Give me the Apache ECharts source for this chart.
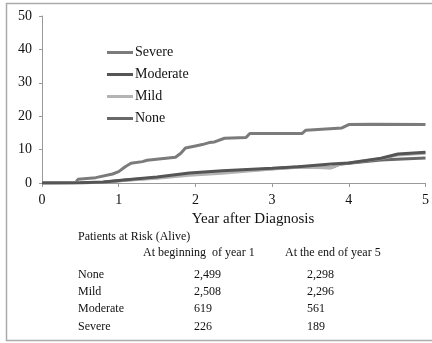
<!DOCTYPE html>
<html><head><meta charset="utf-8">
<script src="https://cdn.jsdelivr.net/npm/echarts@6/dist/echarts.min.js"></script>
<style>html,body{margin:0;padding:0;background:#fff}#c{width:432px;height:343px}</style>
</head><body><div id="c"></div>
<script>
const seriesNames = ['Severe', 'Moderate', 'Mild', 'None'];
const severe = [[0,0],[0.44,0.1],[0.47,1.1],[0.7,1.6],[0.92,2.7],[1.0,3.4],[1.08,4.8],[1.16,5.9],[1.31,6.4],[1.37,6.8],[1.74,7.7],[1.81,8.9],[1.87,10.5],[2.0,11.1],[2.09,11.5],[2.18,12.1],[2.25,12.3],[2.38,13.4],[2.66,13.6],[2.71,14.8],[3.39,14.8],[3.44,15.8],[3.91,16.5],[4.0,17.5],[4.3,17.6],[5.0,17.5]];
const moderate = [[0,0],[0.5,0.1],[0.8,0.3],[1.1,1.0],[1.5,1.8],[1.92,3.0],[2.35,3.7],[3.0,4.4],[3.34,4.9],[3.77,5.7],[4.0,6.0],[4.42,7.4],[4.64,8.7],[5.0,9.2]];
const mild = [[0,0],[0.55,0.1],[0.8,0.2],[1.1,0.8],[1.5,1.4],[1.92,2.3],[2.35,2.9],[3.0,4.2],[3.34,4.7],[3.77,4.6],[3.9,5.8],[4.0,6.0],[4.42,7.3],[4.64,8.4],[5.0,8.9]];
const none = [[0,0],[0.5,0.1],[0.8,0.2],[1.1,0.9],[1.5,1.6],[1.92,2.7],[2.35,3.3],[3.0,4.3],[3.34,4.8],[3.77,4.6],[3.88,5.6],[4.0,5.9],[4.42,6.9],[4.7,7.2],[5.0,7.5]];
const xTicks = [0,1,2,3,4,5];
const yTicks = [0,10,20,30,40,50];
const tableTitle = 'Patients at Risk (Alive)';
const tableHeaders = ['At beginning  of year 1', 'At the end of year 5'];
const tableRows = ['None', 'Mild', 'Moderate', 'Severe'];
const atBeginning = ['2,499', '2,508', '619', '226'];
const atEnd = ['2,298', '2,296', '561', '189'];
const xAxisTitle = 'Year after Diagnosis';

const colors = ['#7b7b7b', '#555555', '#b4b4b4', '#686868'];
const data = [severe, moderate, mild, none];
const F = '"Liberation Serif", "Times New Roman", serif';

const graphic = [
  {type:'rect', shape:{x:6.5,y:3.5,width:440,height:337}, style:{fill:'none', stroke:'#aaaaaa', lineWidth:1.5}, z:-1},
  {type:'text', x:253, y:219, style:{text:xAxisTitle, font:'15px '+F, fill:'#111', textAlign:'center', textVerticalAlign:'middle'}},
  {type:'text', x:78, y:237, style:{text:tableTitle, font:'12px '+F, fill:'#111', textVerticalAlign:'middle'}},
  {type:'text', x:143, y:253, style:{text:tableHeaders[0], font:'12px '+F, fill:'#111', textVerticalAlign:'middle'}},
  {type:'text', x:285, y:253, style:{text:tableHeaders[1], font:'12px '+F, fill:'#111', textVerticalAlign:'middle'}}
];
const rowY = [275, 292, 309, 327];
tableRows.forEach((r,i)=>{
  graphic.push({type:'text', x:78, y:rowY[i], style:{text:r, font:'12px '+F, fill:'#111', textVerticalAlign:'middle'}});
  graphic.push({type:'text', x:194, y:rowY[i], style:{text:atBeginning[i], font:'12px '+F, fill:'#111', textVerticalAlign:'middle'}});
  graphic.push({type:'text', x:307, y:rowY[i], style:{text:atEnd[i], font:'12px '+F, fill:'#111', textVerticalAlign:'middle'}});
});

const chart = echarts.init(document.getElementById('c'), null, {renderer:'canvas'});
chart.setOption({
  animation:false,
  backgroundColor:'#fff',
  textStyle:{fontFamily:F},
  grid:{left:42, right:4, top:16, bottom:160, containLabel:false},
  legend:{
    orient:'vertical', left:102, top:40,
    itemWidth:26, itemHeight:3, itemGap:7, icon:'rect',
    data:seriesNames,
    textStyle:{fontFamily:F, fontSize:14, color:'#111', lineHeight:15, padding:[0,0,0,-3]}
  },
  xAxis:{
    type:'value', min:0, max:5, interval:1,
    axisLine:{show:true, lineStyle:{color:'#999', width:1}},
    axisTick:{show:true, length:4, lineStyle:{color:'#999'}},
    axisLabel:{fontFamily:F, fontSize:14, color:'#111', margin:10, formatter:v=>xTicks.includes(v)?String(v):''},
    splitLine:{show:false}
  },
  yAxis:{
    type:'value', min:0, max:50, interval:10,
    axisLine:{show:true, lineStyle:{color:'#999', width:1}},
    axisTick:{show:true, length:3, lineStyle:{color:'#999'}},
    axisLabel:{fontFamily:F, fontSize:14, color:'#111', margin:10, formatter:v=>yTicks.includes(v)?String(v):''},
    splitLine:{show:false}
  },
  series: seriesNames.map((n,i)=>({
    name:n, type:'line', data:data[i], showSymbol:false, symbol:'none',
    smooth:false, color:colors[i],
    lineStyle:{width:3, color:colors[i]},
    z: i===2 ? 3 : (i===1 ? 4 : 2)
  })),
  graphic: graphic
});
</script></body></html>
